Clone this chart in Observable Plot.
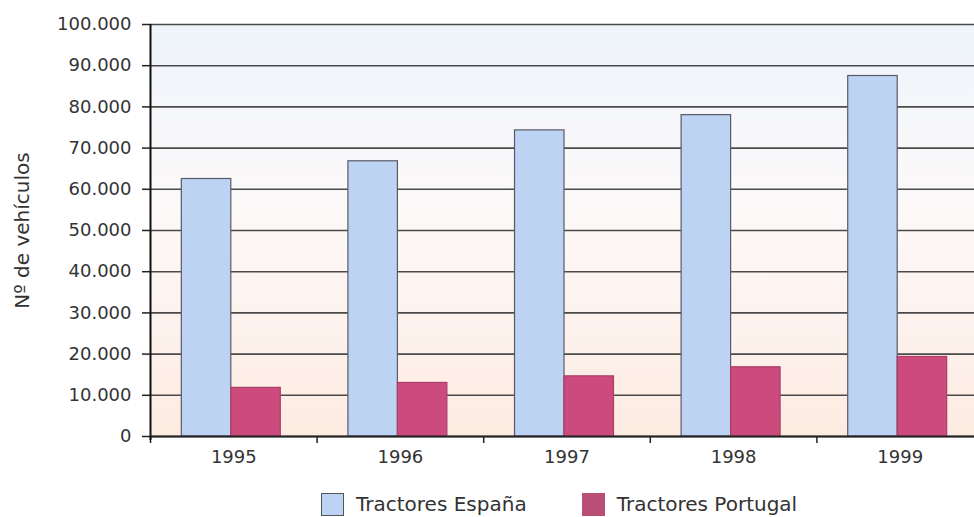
<!DOCTYPE html>
<html>
<head>
<meta charset="utf-8">
<script src="https://cdn.jsdelivr.net/npm/d3@7"></script>
<script src="https://cdn.jsdelivr.net/npm/@observablehq/plot@0.6"></script>
<style>
  html, body { margin: 0; padding: 0; background: #ffffff; }
  #wrap { width: 974px; height: 517px; overflow: hidden; position: relative; }
  #chart { position: absolute; left: 0; top: 0; width: 984px; }
  #chart svg { max-width: none !important; }
  .legend { position: absolute; top: 492px; left: 321px; display: flex; align-items: center;
            font-family: "DejaVu Sans", sans-serif; font-size: 20px; line-height: 24px; color: #333; }
  .legend .sw { width: 23px; height: 23px; box-sizing: border-box; margin-right: 12px; }
  .legend .item { display: flex; align-items: center; margin-right: 55px; }
</style>
</head>
<body>
<div id="wrap">
  <div id="chart"></div>
  <div class="legend" id="legend"></div>
</div>
<script>
// Matriculaciones de tractores, 1995–1999
const years = [1995, 1996, 1997, 1998, 1999];
const tractoresEspana = [62500, 66800, 74300, 78000, 87500];
const tractoresPortugal = [11800, 13000, 14600, 16800, 19300];
const seriesNames = ["Tractores España", "Tractores Portugal"];
const yTicks = [0, 10000, 20000, 30000, 40000, 50000, 60000, 70000, 80000, 90000, 100000];
const yLabel = "Nº de vehículos";

const colors = {
  "Tractores España": "#bdd3f3",
  "Tractores Portugal": "#cd4a7d"
};

const rows = [
  ...years.map((year, i) => ({year, series: seriesNames[0], value: tractoresEspana[i]})),
  ...years.map((year, i) => ({year, series: seriesNames[1], value: tractoresPortugal[i]}))
];

// each year occupies one unit on x; the pair of bars sits in the middle of it
const barW = 0.297;
const shift = -0.015;
const x1 = d => d.series === seriesNames[0] ? d.year - barW + shift : d.year + shift;
const x2 = d => d.series === seriesNames[0] ? d.year + shift : d.year + barW + shift;

const bounds = [1994.5, 1995.5, 1996.5, 1997.5, 1998.5, 1999.5];
const fmt = d => d3.format(",")(d).replace(/,/g, ".");

const chart = Plot.plot({
  width: 984,
  height: 480,
  marginLeft: 150,
  marginRight: 1,
  marginTop: 24,
  marginBottom: 44,
  style: {fontFamily: "DejaVu Sans, sans-serif", fontSize: "18px", color: "#333", background: "transparent", maxWidth: "none"},
  x: {type: "linear", domain: [1994.5, 1999.5]},
  y: {domain: [0, 100000]},
  marks: [
    Plot.frame({fill: "url(#plotBg)", stroke: null}),
    Plot.gridY(yTicks, {stroke: "#4a4a4a", strokeOpacity: 1, strokeWidth: 1.6}),
    Plot.rectY(rows, {
      x1, x2, y: "value",
      fill: d => colors[d.series],
      stroke: d => d.series === seriesNames[0] ? "#5a5a66" : "#a83e68",
      strokeWidth: 1.2
    }),
    Plot.axisY({ticks: yTicks, tickFormat: fmt, tickSize: 8, tickPadding: 11, stroke: "#222", strokeWidth: 1.5, label: null}),
    Plot.axisX({ticks: bounds, tickSize: 7, tickFormat: () => "", stroke: "#222", strokeWidth: 1.5, label: null}),
    Plot.axisX({ticks: years, tickSize: 0, tickPadding: 14, tickFormat: d => String(d), fontSize: 18, label: null}),
    Plot.ruleY([0], {stroke: "#222", strokeWidth: 2}),
    Plot.ruleX([1994.5], {stroke: "#111", strokeWidth: 2, insetBottom: -4}),
    Plot.text([yLabel], {frameAnchor: "left", textAnchor: "middle", rotate: -90, dx: -128, fontSize: 20, fill: "#333"})
  ]
});

// vertical background wash: pale blue at the top fading to peach at the base
const ns = "http://www.w3.org/2000/svg";
const defs = document.createElementNS(ns, "defs");
const grad = document.createElementNS(ns, "linearGradient");
grad.setAttribute("id", "plotBg");
grad.setAttribute("x1", "0"); grad.setAttribute("y1", "0");
grad.setAttribute("x2", "0"); grad.setAttribute("y2", "1");
[["0%", "#eef4fb"], ["45%", "#fdf9f9"], ["100%", "#fdebe1"]].forEach(([o, c]) => {
  const s = document.createElementNS(ns, "stop");
  s.setAttribute("offset", o); s.setAttribute("stop-color", c);
  grad.appendChild(s);
});
defs.appendChild(grad);
chart.insertBefore(defs, chart.firstChild);

document.getElementById("chart").appendChild(chart);

// legend below the chart
const legend = document.getElementById("legend");
const swatchStyle = {
  "Tractores España": {bg: "#bdd3f3", border: "1.5px solid #555"},
  "Tractores Portugal": {bg: "#b94f76", border: "none"}
};
seriesNames.forEach(name => {
  const item = document.createElement("div");
  item.className = "item";
  const sw = document.createElement("div");
  sw.className = "sw";
  sw.style.background = swatchStyle[name].bg;
  sw.style.border = swatchStyle[name].border;
  const label = document.createElement("span");
  label.textContent = name;
  item.appendChild(sw);
  item.appendChild(label);
  legend.appendChild(item);
});
</script>
</body>
</html>
